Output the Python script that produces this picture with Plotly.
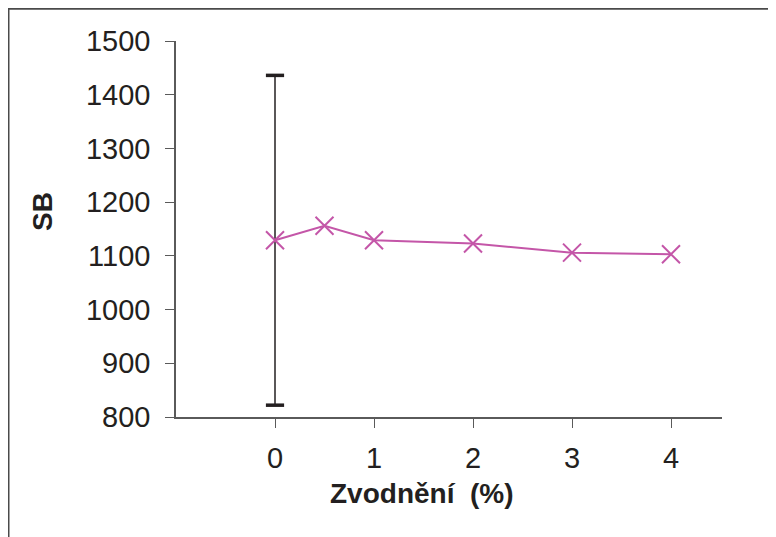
import plotly.graph_objects as go

# Data
water_pct = [0, 0.5, 1, 2, 3, 4]
sb_values = [1129, 1156, 1129, 1123, 1106, 1103]
err_x = [0]
err_y = [1129]
err_val = [307]
x_ticks = [0, 1, 2, 3, 4]
y_ticks = [800, 900, 1000, 1100, 1200, 1300, 1400, 1500]

# page has an 8px body margin: work in figure pixels = page pixels - 8
OFF = 8
W, H = 776 - OFF, 537 - OFF
L, R, T, B = 176 - OFF, 54, 41 - OFF, 120
pw, ph = W - L - R, H - T - B

def px(xp):
    return (xp - OFF - L) / pw

def py(yp):
    return (H - B - (yp - OFF)) / ph

pink = "#C456A8"
axis_col = "#5a5a5a"
text_col = "#231f20"
font_family = "Liberation Sans, Arial, sans-serif"

fig = go.Figure()

fig.add_trace(go.Scatter(
    x=err_x, y=err_y, mode="markers",
    marker=dict(size=1, color="rgba(0,0,0,0)"),
    error_y=dict(type="data", array=err_val, visible=True, color="#231f20", thickness=1.5, width=0),
    showlegend=False, hoverinfo="skip"))

cap_y = [err_y[0] + err_val[0], err_y[0] - err_val[0]]
fig.add_trace(go.Scatter(
    x=[err_x[0], err_x[0]], y=cap_y, mode="markers",
    marker=dict(symbol="line-ew", size=13, line=dict(width=3.5, color="#231f20")),
    showlegend=False, hoverinfo="skip"))

fig.add_trace(go.Scatter(
    x=water_pct, y=sb_values, mode="lines+markers",
    line=dict(color=pink, width=2),
    marker=dict(symbol="x-thin", size=18, line=dict(width=2, color=pink), color=pink),
    showlegend=False))

fig.update_xaxes(
    range=[-1, 4.515], tickvals=x_ticks, ticktext=[str(v) for v in x_ticks],
    showgrid=False, zeroline=False, showline=True, linecolor=axis_col, linewidth=1.5,
    ticks="outside", ticklen=9, tickwidth=1.2, tickcolor=axis_col,
    tickfont=dict(size=29, color=text_col, family=font_family), ticklabelstandoff=5)
fig.update_yaxes(
    range=[800, 1500], tickvals=y_ticks,
    showgrid=False, zeroline=False, showline=True, linecolor=axis_col, linewidth=1.5,
    ticks="outside", ticklen=9, tickwidth=1.2, tickcolor=axis_col,
    tickfont=dict(size=29, color=text_col, family=font_family), ticklabelstandoff=9)

fig.add_annotation(text="<b>Zvodnění\u00a0\u00a0(%)</b>", xref="paper", yref="paper",
                   x=px(422), y=py(493), xanchor="center", yanchor="middle", showarrow=False,
                   font=dict(size=28, color=text_col, family=font_family))
fig.add_annotation(text="<b>SB</b>", xref="paper", yref="paper",
                   x=px(42), y=py(212), xanchor="center", yanchor="middle",
                   showarrow=False, textangle=-90,
                   font=dict(size=28, color=text_col, family=font_family))

fig.add_shape(type="line", xref="paper", yref="paper",
              x0=px(8), x1=px(800), y0=py(8.8), y1=py(8.8),
              line=dict(color="#4a4a4a", width=2))
fig.add_shape(type="line", xref="paper", yref="paper",
              x0=px(8.75), x1=px(8.75), y0=py(8.8), y1=py(560),
              line=dict(color="#4a4a4a", width=1.5))

fig.update_layout(
    width=W, height=H, margin=dict(l=L, r=R, t=T, b=B),
    paper_bgcolor="white", plot_bgcolor="white",
    font=dict(family=font_family, color=text_col))

fig.write_html("out.html")
